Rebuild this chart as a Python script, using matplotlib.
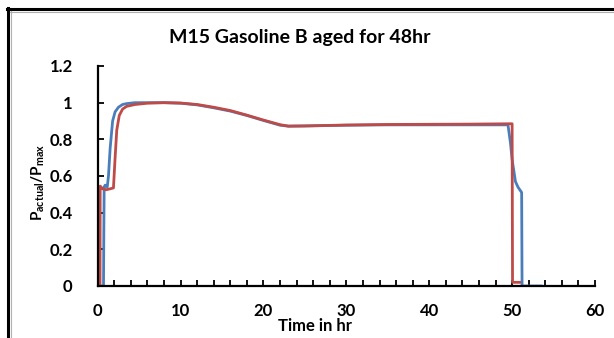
import matplotlib
matplotlib.use('Agg')
import matplotlib.pyplot as plt
from matplotlib.lines import Line2D
import numpy as np

# --------------------------------------------------------------------------------------
# Data

blueTime = [0, 0.7, 0.74, 0.78, 0.9, 1.15, 1.3, 1.5, 1.8, 2.1, 2.5, 3.0, 3.5, 4.5,
            6, 8, 10, 12, 14, 16, 18, 20, 22, 23, 25, 30, 35, 40, 45,
            49.5, 49.8, 50.0, 50.4, 50.7, 51.0, 51.15, 51.2, 53.5]
blueVal  = [0, 0, 0.3, 0.54, 0.55, 0.54, 0.6, 0.75, 0.9, 0.95, 0.975, 0.99, 0.995, 1.0,
            1.0, 1.0, 0.997, 0.988, 0.972, 0.954, 0.93, 0.903, 0.877, 0.872, 0.873, 0.877, 0.879, 0.879, 0.879,
            0.879, 0.78, 0.69, 0.57, 0.54, 0.52, 0.51, 0, 0]

redTime  = [0, 0.28, 0.3, 0.6, 1.0, 1.5, 1.9, 2.1, 2.3, 2.6, 3.0, 3.5, 4.5, 6, 8,
            10, 12, 14, 16, 18, 20, 22, 23, 25, 30, 35, 40, 45, 50.0, 50.05, 50.9]
redVal   = [0, 0, 0.545, 0.53, 0.525, 0.53, 0.535, 0.7, 0.85, 0.93, 0.965, 0.98, 0.99, 0.997, 1.0,
            0.998, 0.99, 0.975, 0.957, 0.932, 0.905, 0.88, 0.872, 0.873, 0.878, 0.881, 0.882, 0.883, 0.885, 0.02, 0.02]

xTicks   = [0, 10, 20, 30, 40, 50, 60]
yTicks   = [0, 0.2, 0.4, 0.6, 0.8, 1.0, 1.2]
yLabels  = ['0', '0.2', '0.4', '0.6', '0.8', '1', '1.2']

blueCol = '#4A7EBB'
redCol  = '#BE4B48'
# --------------------------------------------------------------------------------------
# Create chart

plt.rcParams['font.family'] = ['Lato', 'DejaVu Sans']
plt.rcParams['mathtext.fontset'] = 'custom'
plt.rcParams['mathtext.rm'] = 'Lato:bold'
plt.rcParams['mathtext.it'] = 'Lato:bold'
plt.rcParams['mathtext.bf'] = 'Lato:bold'

fig = plt.figure(figsize=(6.14, 3.38), dpi=100)
ax = fig.add_axes([97.7/614, 52/338, (595-97.7)/614, 220/338])

ax.plot(blueTime, blueVal, color=blueCol, linewidth=2.0, solid_joinstyle='round')
ax.plot(redTime, redVal, color=redCol, linewidth=2.0, solid_joinstyle='round')

ax.spines['top'].set_visible(False)
ax.spines['right'].set_visible(False)
ax.spines['left'].set_linewidth(1.6)
ax.spines['bottom'].set_linewidth(1.6)

# x
ax.set_xlim(0, 60)
ax.set_xticks(xTicks)
ax.set_xticks(np.arange(0, 61, 2), minor=True)
ax.tick_params(axis='x', which='both', direction='in', length=4, width=1.3, pad=12)
ax.set_xticklabels([str(t) for t in xTicks], fontsize=12, fontweight='bold')

# y
ax.set_ylim(0, 1.2)
ax.set_yticks(yTicks)
ax.set_yticklabels(yLabels, fontsize=12, fontweight='bold')
ax.tick_params(axis='y', direction='in', length=4, width=1.3, pad=18)

ax.set_ylabel(r'P$_{\mathbf{actual}}$/P$_{\mathbf{max}}$', fontsize=11, fontweight='bold')
ax.yaxis.set_label_coords((47 - 97.7) / 497.3, (286 - 182) / 220)

fig.text(315/614, 12/338, 'Time in hr', fontsize=12, fontweight='bold', ha='center', va='center')
fig.text(300/614, 1 - 38/338, 'M15 Gasoline B aged for 48hr', fontsize=14, fontweight='bold',
         ha='center', va='center')

# frame of the clipped picture
fig.add_artist(Line2D([7/614, 1], [1 - 9/338, 1 - 9/338], color='black', linewidth=2.2))
fig.add_artist(Line2D([8/614, 8/614], [0, 1 - 8/338], color='black', linewidth=2.2))
fig.add_artist(Line2D([10/614, 1], [1 - 11.5/338, 1 - 11.5/338], color='#b0b0b0', linewidth=0.8))
fig.add_artist(Line2D([10.5/614, 10.5/614], [0, 1 - 11/338], color='#b0b0b0', linewidth=0.8))

fig.savefig('out.png', dpi=100)
